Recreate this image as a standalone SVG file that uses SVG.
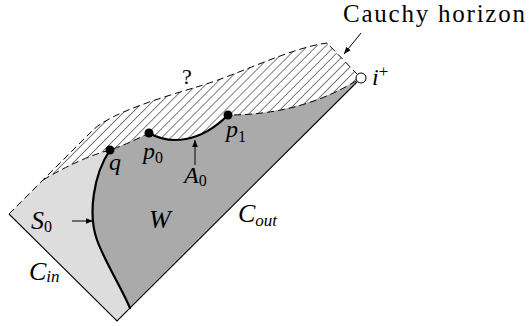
<svg xmlns="http://www.w3.org/2000/svg" width="530" height="326" viewBox="0 0 530 326">
<style>
.lbl{font-family:"Liberation Serif","Times New Roman",serif;fill:#000}
.m{font-style:italic;font-size:24px}
.sub{font-style:normal;font-size:16px}
.subi{font-style:italic;font-size:17px}
.thin{fill:none;stroke:#000;stroke-width:1.1}
.dash{fill:none;stroke:#000;stroke-width:1;stroke-dasharray:7 4}
.thick{fill:none;stroke:#000;stroke-width:2.2;stroke-linecap:round}
.arr{fill:none;stroke:#000;stroke-width:1}
.dot{fill:#000}
</style>
<defs>
<pattern id="hatch" width="6.4" height="6.4" patternUnits="userSpaceOnUse" patternTransform="rotate(45)">
<line x1="0" y1="-1" x2="0" y2="7.4" stroke="#000" stroke-width="1"/>
</pattern>
<marker id="ah" viewBox="0 0 10 10" refX="10" refY="5" markerWidth="7" markerHeight="7" markerUnits="userSpaceOnUse" orient="auto">
<path d="M0,1 L10,5 L0,9 Z" fill="#000"/>
</marker>
</defs>
<g id="regions">
<path id="hatched" d="M43,180 L92,131 C110,113 160,98 200,86 C240,74 290,48 327,43 L361,78 Q300,115 228,115 C200,143 170,145 149,133 Q130,143 110,150 Q80,158 43,180 Z" fill="url(#hatch)" stroke="none"/>
<path id="W" d="M110,150 Q130,143 149,133 C170,145 200,143 228,115 Q300,115 361,78 L130,308 C120,285 105,262 97,240 C88,215 93,175 110,150 Z" fill="#aaaaaa" stroke="none"/>
<path id="S0region" d="M9,214 L43,180 Q80,158 110,150 C93,175 88,215 97,240 C105,262 120,285 130,308 L117,321 Z" fill="#dddddd" stroke="none"/>
</g>
<g id="connectors">
<path class="dash" d="M9,214 L92,131 C110,113 160,98 200,86 C240,74 290,48 327,43 L357,74"/>
<path class="dash" d="M356,81 Q300,115 228,115"/>
<path class="dash" d="M43,180 Q80,158 110,150 Q130,143 149,133"/>
<path class="thin" d="M9,214 L117,321 L357,82"/>
<path class="thick" d="M110,150 C93,175 88,215 97,240 C105,262 120,285 130,308"/>
<path class="thick" d="M149,133 C170,145 200,143 228,115"/>
<line class="arr" x1="72" y1="221" x2="93" y2="221" marker-end="url(#ah)"/>
<line class="arr" x1="195" y1="165" x2="195" y2="140" marker-end="url(#ah)"/>
<line class="arr" x1="361" y1="33" x2="344" y2="54" marker-end="url(#ah)"/>
</g>
<g id="q"><circle class="dot" cx="110" cy="150" r="4.5"/><text class="lbl m" x="109" y="170">q</text></g>
<g id="p0"><circle class="dot" cx="149" cy="133" r="4.5"/><text class="lbl m" x="143" y="159">p<tspan class="sub" dy="4">0</tspan></text></g>
<g id="p1"><circle class="dot" cx="228" cy="115" r="4.5"/><text class="lbl m" x="226" y="137">p<tspan class="sub" dy="5">1</tspan></text></g>
<g id="iplus"><circle cx="361" cy="78" r="5" fill="#fff" stroke="#000" stroke-width="1"/><text class="lbl m" x="372" y="85">i<tspan class="sub" dy="-8" style="font-size:17px">+</tspan></text></g>
<g id="labels">
<text class="lbl" x="182" y="84" style="font-size:22px">?</text>
<text class="lbl" x="343" y="22" style="font-size:25px" textLength="182" lengthAdjust="spacing">Cauchy horizon</text>
<text class="lbl m" x="184" y="183">A<tspan class="sub" dy="3">0</tspan></text>
<text class="lbl m" x="149" y="228" style="font-size:26px">W</text>
<text class="lbl m" x="238" y="222" style="font-size:26px">C<tspan class="subi" dy="4">out</tspan></text>
<text class="lbl m" x="31" y="229" style="font-size:26px">S<tspan class="sub" dy="3">0</tspan></text>
<text class="lbl m" x="29" y="280" style="font-size:26px">C<tspan class="subi" dy="2">in</tspan></text>
</g>
</svg>
